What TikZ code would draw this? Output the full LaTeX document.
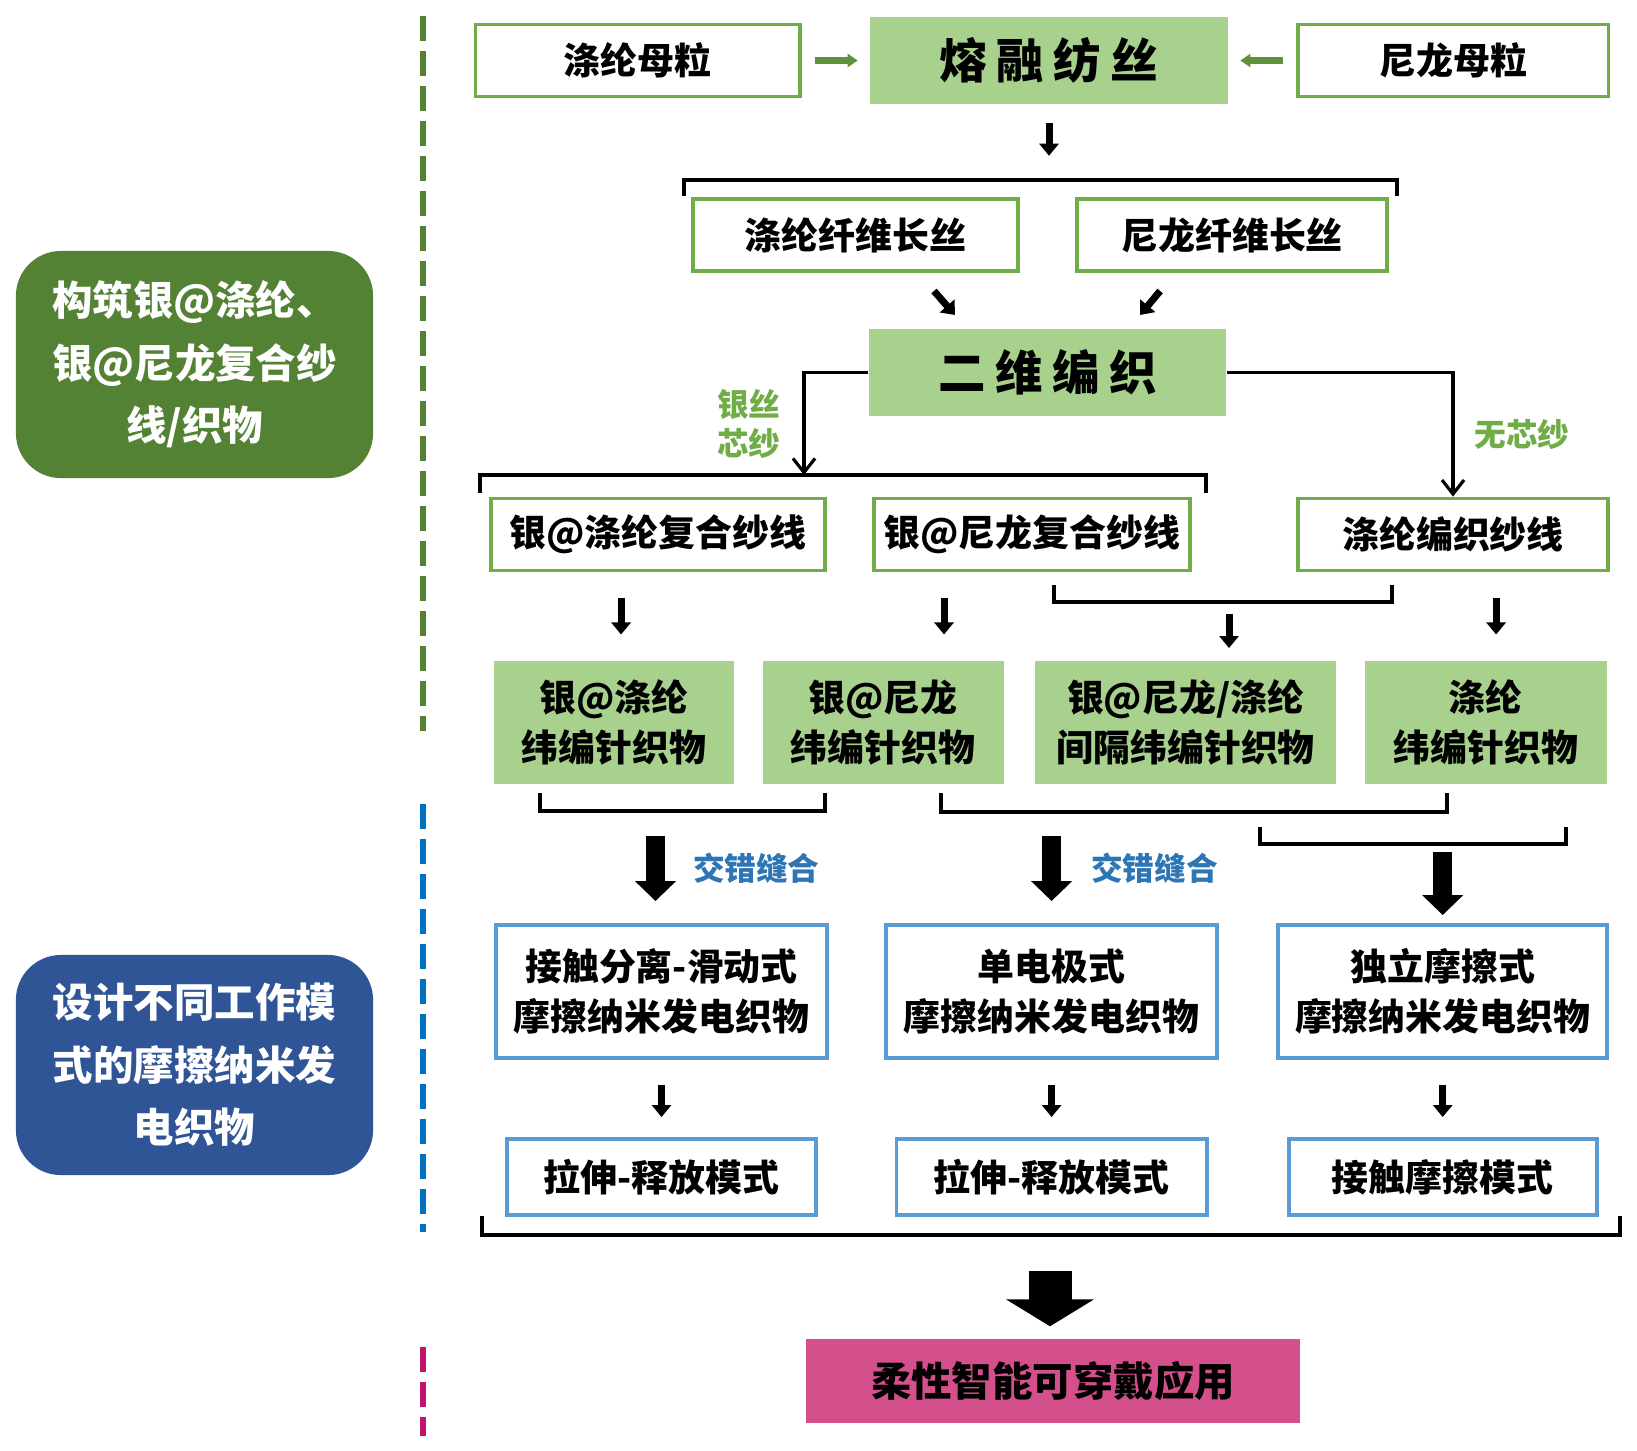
\documentclass[tikz,border=0pt]{standalone}
\usepackage{fontspec}
\setmainfont{Noto Sans CJK SC}
\usetikzlibrary{arrows.meta,positioning}
\definecolor{darkgreen}{RGB}{84,130,53}
\definecolor{lightgreen}{RGB}{169,209,142}
\definecolor{midgreen}{RGB}{112,173,71}
\definecolor{arrowgreen}{RGB}{98,145,62}
\definecolor{darkblue}{RGB}{47,85,151}
\definecolor{lineblue}{RGB}{91,155,213}
\definecolor{textblue}{RGB}{46,117,182}
\definecolor{dashblue}{RGB}{0,112,192}
\definecolor{apppink}{RGB}{212,80,140}
\definecolor{dashpink}{RGB}{190,20,110}
\begin{document}
\begin{tikzpicture}[x=0.01cm, y=-0.01cm,
    side/.style={rounded corners=0.45cm, text=white, align=center, minimum width=3.57cm, font=\bfseries\fontsize{11.5}{17.8}\selectfont},
    raw/.style={draw=midgreen, line width=1.1pt, fill=white, inner xsep=2pt, minimum height=0.72cm, font=\bfseries\fontsize{10.5}{14}\selectfont},
    proc/.style={fill=lightgreen, minimum width=3.57cm, minimum height=0.87cm, font=\bfseries\fontsize{13.5}{16}\selectfont},
    fab/.style={fill=lightgreen, align=center, minimum height=1.23cm, font=\bfseries\fontsize{10.5}{14.2}\selectfont},
    teng/.style={draw=lineblue, line width=1.1pt, align=center, minimum height=1.33cm, font=\bfseries\fontsize{10.5}{14.2}\selectfont},
    mode/.style={draw=lineblue, line width=1.1pt, minimum height=0.76cm, font=\bfseries\fontsize{10.5}{14}\selectfont},
    lab/.style={inner sep=0pt, align=center, font=\bfseries\fontsize{9}{11}\selectfont},
    vdash/.style={line width=1.8pt, dash pattern=on 0.25cm off 0.1cm},
    bracket/.style={line width=1.2pt},
    link/.style={line width=0.9pt, -{Straight Barb[length=0.14cm,width=0.22cm]}},
    sarrow/.style={line width=2pt, -{Triangle[length=0.12cm,width=0.19cm]}},
    garrow/.style={draw=arrowgreen, line width=0.07cm, -{Triangle[length=0.1cm,width=0.13cm]}, shorten <=0.13cm, shorten >=0.12cm},
    barrow/.style={line width=0.19cm, -{Triangle[length=0.2cm,width=0.4cm]}},
    farrow/.style={line width=0.43cm, -{Triangle[length=0.27cm,width=0.87cm]}}]
  \useasboundingbox (0,0) rectangle (1637,1450);

  \node[side, fill=darkgreen, minimum height=2.27cm] (S1) at (194.5,364.5) {构筑银@涤纶、\\银@尼龙复合纱\\线/织物};
  \node[side, fill=darkblue, minimum height=2.2cm] (S2) at (194.5,1065) {设计不同工作模\\式的摩擦纳米发\\电织物};
  \draw[vdash, draw=darkgreen] (423,16) -- (423,731);
  \draw[vdash, draw=dashblue] (423,804) -- (423,1232);
  \draw[vdash, draw=dashpink] (423,1347) -- (423,1436);

  \node[proc] (M) at (1049,60.5) {熔\hspace{.2em}融\hspace{.2em}纺\hspace{.2em}丝};
  \node[raw, minimum width=3.24cm, left=0.68cm of M] (PM) {涤纶母粒};
  \node[raw, minimum width=3.1cm, right=0.68cm of M] (NM) {尼龙母粒};
  \draw[garrow] (PM) -- (M);
  \draw[garrow] (NM) -- (M);
  \draw[sarrow] ([yshift=-0.18cm]M.south) -- ++(0,33);
  \draw[bracket] (684,196) |- (1397,180) -- (1397,196);

  \node[raw, minimum width=3.25cm] (PF) at (855.5,235) {涤纶纤维长丝};
  \node[raw, minimum width=3.1cm, right=0.55cm of PF] (NF) {尼龙纤维长丝};
  \draw[sarrow] ([xshift=-0.86cm,yshift=-0.18cm]PF.south east) -- ++(21,24);
  \draw[sarrow] ([xshift=0.85cm,yshift=-0.18cm]NF.south west) -- ++(-20,24);
  \node[proc] (B) at (1047.5,372.5) {二\hspace{.2em}维\hspace{.2em}编\hspace{.2em}织};

  \node[raw, minimum width=3.34cm] (AP) at (658,534.5) {银@涤纶复合纱线};
  \node[raw, minimum width=3.16cm] (AN) at (1032,534.5) {银@尼龙复合纱线};
  \node[raw, minimum width=3.1cm] (PY) at (1453,534.5) {涤纶编织纱线};
  \draw[bracket] (480,493) |- (1206,475) -- (1206,493);
  \coordinate (K) at (804,475);
  \draw[link] (B.west) -| node[pos=0.75, left=0.22cm, lab, text=midgreen] {银丝\\芯纱} (K);
  \draw[link] (B.east) -| node[pos=0.75, right=0.2cm, lab, text=midgreen] {无芯纱} (PY.north);

  \draw[sarrow] ([xshift=1.32cm,yshift=-0.26cm]AP.south west) -- ++(0,36);
  \draw[sarrow] ([xshift=0.72cm,yshift=-0.26cm]AN.south west) -- ++(0,36);
  \draw[sarrow] ([xshift=2cm,yshift=-0.26cm]PY.south west) -- ++(0,36);
  \draw[bracket] (1054,585) |- (1392,602) -- (1392,585);
  \coordinate (J) at (1229,602);
  \draw[sarrow] ([yshift=-0.12cm]J) -- ++(0,34);

  \node[fab, minimum width=2.4cm] (F1) at (614,722.5) {银@涤纶\\纬编针织物};
  \node[fab, minimum width=2.41cm, right=0.27cm of F1] (F2) {银@尼龙\\纬编针织物};
  \node[fab, minimum width=3.01cm, right=0.3cm of F2] (F3) {银@尼龙/涤纶\\间隔纬编针织物};
  \node[fab, minimum width=2.42cm, right=0.27cm of F3] (F4) {涤纶\\纬编针织物};
  \draw[bracket] (540,793) |- (825,811) -- (825,793);
  \draw[bracket] (941,793) |- (1447,812) -- (1447,793);
  \draw[bracket] (1260,827) |- (1566,844) -- (1566,827);

  \node[teng, minimum width=3.31cm] (T1) at (661.5,991.5) {接触分离-滑动式\\摩擦纳米发电织物};
  \node[teng, minimum width=3.31cm, right=0.55cm of T1] (T2) {单电极式\\摩擦纳米发电织物};
  \node[teng, minimum width=3.29cm, right=0.57cm of T2] (T3) {独立摩擦式\\摩擦纳米发电织物};
  \draw[barrow] ([xshift=-0.06cm,yshift=0.87cm]T1.north) -- node[right=0.28cm, lab, text=textblue] {交错缝合} ([xshift=-0.06cm,yshift=0.22cm]T1.north);
  \draw[barrow] ([yshift=0.87cm]T2.north) -- node[right=0.3cm, lab, text=textblue] {交错缝合} ([yshift=0.22cm]T2.north);
  \draw[barrow] ([yshift=0.71cm]T3.north) -- ([yshift=0.08cm]T3.north);

  \node[mode, minimum width=3.09cm, below=0.77cm of T1] (R1) {拉伸-释放模式};
  \node[mode, minimum width=3.1cm, below=0.77cm of T2] (R2) {拉伸-释放模式};
  \node[mode, minimum width=3.08cm, below=0.77cm of T3] (R3) {接触摩擦模式};
  \foreach \t/\r in {T1/R1, T2/R2, T3/R3}
    \draw[sarrow, shorten <=0.25cm, shorten >=0.2cm] (\t.south) -- (\t.south |- \r.north);
  \draw[bracket] (482,1216) |- (1620,1235) -- (1620,1216);

  \node[fill=apppink, minimum width=4.94cm, minimum height=0.84cm, font=\bfseries\fontsize{11.5}{14}\selectfont] (A) at (1053,1381) {柔性智能可穿戴应用};
  \draw[farrow] ([xshift=-0.03cm,yshift=0.67cm]A.north) -- ([xshift=-0.03cm,yshift=0.12cm]A.north);
\end{tikzpicture}
\end{document}
